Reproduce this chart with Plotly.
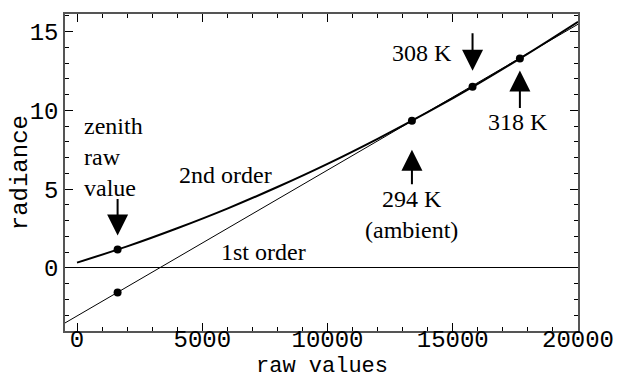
import plotly.graph_objects as go

# ---- data ----
curve2_x = [0, 2000, 4000, 6000, 8000, 10000, 12000, 14000, 16000, 18000, 20000]
curve2_y = [0.34, 1.37, 2.52, 3.77, 5.14, 6.61, 8.20, 9.89, 11.69, 13.61, 15.63]

line1_x = [-480, 20000]
line1_y = [-3.49, 15.47]

pts2_x = [1620, 13370, 15790, 17680]
pts2_y = [1.17, 9.34, 11.50, 13.30]

pts1_x = [1620]
pts1_y = [-1.56]

x_ticks = [0, 5000, 10000, 15000, 20000]
x_ticklabels = ["0", "5000", "10000", "15000", "20000"]
y_ticks = [0, 5, 10, 15]
y_ticklabels = ["0", "5", "10", "15"]

x_range = [-480, 20000]
y_range = [-4.0, 16.12]

mono = "Liberation Mono, Courier New, monospace"
serif = "Liberation Serif, Times New Roman, serif"

fig = go.Figure()
fig.add_trace(go.Scatter(x=line1_x, y=line1_y, mode="lines",
                         line=dict(color="black", width=1), hoverinfo="skip"))
fig.add_trace(go.Scatter(x=curve2_x, y=curve2_y, mode="lines",
                         line=dict(color="black", width=2, shape="spline"), hoverinfo="skip"))
fig.add_trace(go.Scatter(x=pts2_x + pts1_x, y=pts2_y + pts1_y, mode="markers",
                         marker=dict(color="black", size=8), hoverinfo="skip"))

# arrows (tip near the points): (x, y, tail offset px, standoff px)
arrow_specs = [
    (pts2_x[0], pts2_y[0], -52, 14),
    (pts2_x[1], pts2_y[1], 65, 29),
    (pts2_x[2], pts2_y[2], -55, 16),
    (pts2_x[3], pts2_y[3], 51, 12),
]
for ax_x, ax_y, ay, so in arrow_specs:
    fig.add_annotation(x=ax_x, y=ax_y, xref="x", yref="y", ax=0, ay=ay,
                       showarrow=True, arrowhead=2, arrowsize=2.1, arrowwidth=2,
                       arrowcolor="black", standoff=so, text="")

texts = [
    ("zenith<br>raw<br>value", 200, 7.03, "left"),
    ("2nd order", 5940, 5.89, "center"),
    ("1st order", 7450, 1.02, "center"),
    ("294 K<br>(ambient)", 13350, 3.41, "center"),
    ("308 K", 13785, 13.62, "center"),
    ("318 K", 17610, 9.28, "center"),
]
for t, tx, ty, al in texts:
    fig.add_annotation(x=tx, y=ty, xref="x", yref="y", text=t, showarrow=False,
                       xanchor=al, yanchor="middle", align=al,
                       font=dict(family=serif, size=24, color="black"))

# axis titles
fig.add_annotation(x=0.5, y=-0.111, xref="paper", yref="paper", text="raw values",
                   showarrow=False, xanchor="center", yanchor="middle", borderpad=0,
                   font=dict(family=mono, size=22, color="black"))
fig.add_annotation(x=-0.0875, y=0.498, xref="paper", yref="paper", text="radiance",
                   showarrow=False, xanchor="center", yanchor="middle", textangle=-90,
                   font=dict(family=mono, size=24, color="black"))

axis_common = dict(showgrid=False, showline=True, linecolor="#555", linewidth=1.5,
                   mirror="allticks", ticks="inside", ticklen=8, tickwidth=1,
                   tickcolor="black", automargin=False,
                   tickfont=dict(family=mono, size=24, color="black"))

fig.update_layout(
    width=618, height=378,
    margin=dict(l=65, r=40, t=14, b=47),
    paper_bgcolor="white", plot_bgcolor="white",
    showlegend=False,
    xaxis=dict(range=x_range, tickvals=x_ticks, ticktext=x_ticklabels, zeroline=False,
               ticklabelstandoff=-15,
               minor=dict(dtick=1000, ticks="inside", ticklen=4, tickcolor="black"),
               **axis_common),
    yaxis=dict(range=y_range, tickvals=y_ticks, ticktext=y_ticklabels, zeroline=True,
               zerolinecolor="black", zerolinewidth=1,
               minor=dict(dtick=1, ticks="inside", ticklen=4, tickcolor="black"),
               **axis_common),
)

fig.write_html("out.html")
